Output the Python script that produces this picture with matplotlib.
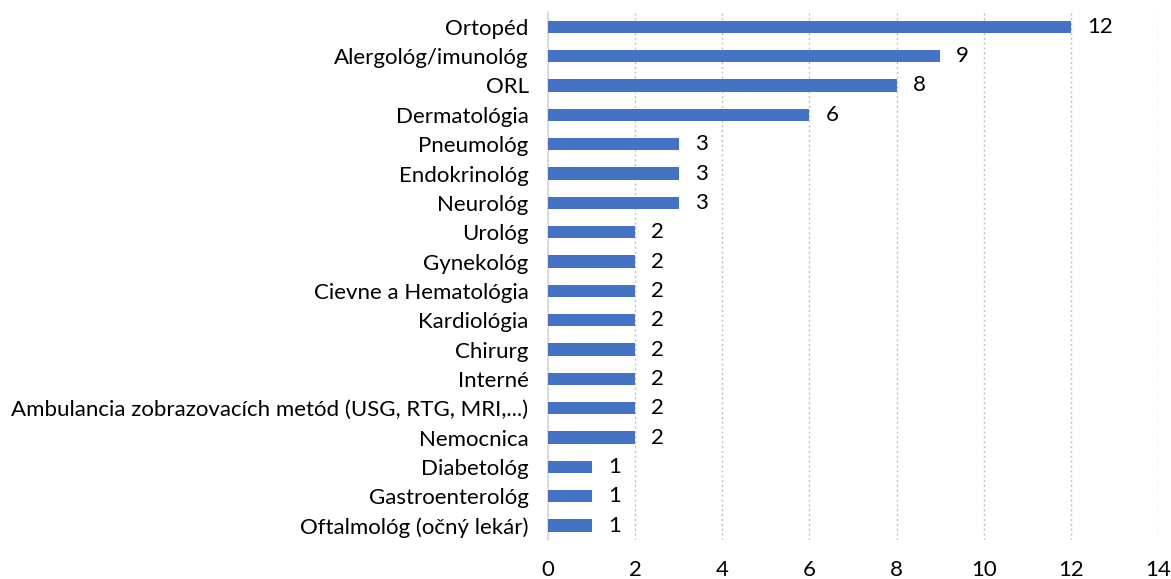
import matplotlib
matplotlib.use("Agg")
import matplotlib.pyplot as plt

# categories, top to bottom
categories = [
    "Ortopéd", "Alergológ/imunológ", "ORL", "Dermatológia", "Pneumológ",
    "Endokrinológ", "Neurológ", "Urológ", "Gynekológ", "Cievne a Hematológia",
    "Kardiológia", "Chirurg", "Interné",
    "Ambulancia zobrazovacích metód (USG, RTG, MRI,...)", "Nemocnica",
    "Diabetológ", "Gastroenterológ", "Oftalmológ (očný lekár)",
]
counts = [12, 9, 8, 6, 3, 3, 3, 2, 2, 2, 2, 2, 2, 2, 2, 1, 1, 1]
xticks = [0, 2, 4, 6, 8, 10, 12, 14]

plt.rcParams["font.family"] = ["Lato", "DejaVu Sans"]
BLUE = "#4472C4"
FS = 16

fig = plt.figure(figsize=(11.71, 5.79), dpi=100)
ax = fig.add_axes([0.468, 0.067, 0.521, 0.912])

pos = list(range(len(categories)))
ax.barh(pos, counts, height=0.42, color=BLUE, zorder=3)
for y, v in zip(pos, counts):
    ax.text(v + 0.37, y, str(v), va="center", ha="left", fontsize=FS, color="black")

ax.set_ylim(len(categories) - 0.5, -0.5)
ax.set_xlim(0, 14)
ax.set_yticks(pos)
ax.set_yticklabels(categories, fontsize=FS)
ax.set_xticks(xticks)
ax.set_xticklabels([str(t) for t in xticks], fontsize=FS)

ax.grid(axis="x", color="#BFBFBF", ls=(0, (1.5, 2)), lw=1, zorder=0)
for s in ["top", "right", "bottom"]:
    ax.spines[s].set_visible(False)
ax.spines["left"].set_color("#D9D9D9")
ax.spines["left"].set_linewidth(1.2)
ax.tick_params(axis="both", length=0)
ax.tick_params(axis="x", pad=14)
ax.tick_params(axis="y", pad=14)

fig.savefig("out.png", dpi=100)
